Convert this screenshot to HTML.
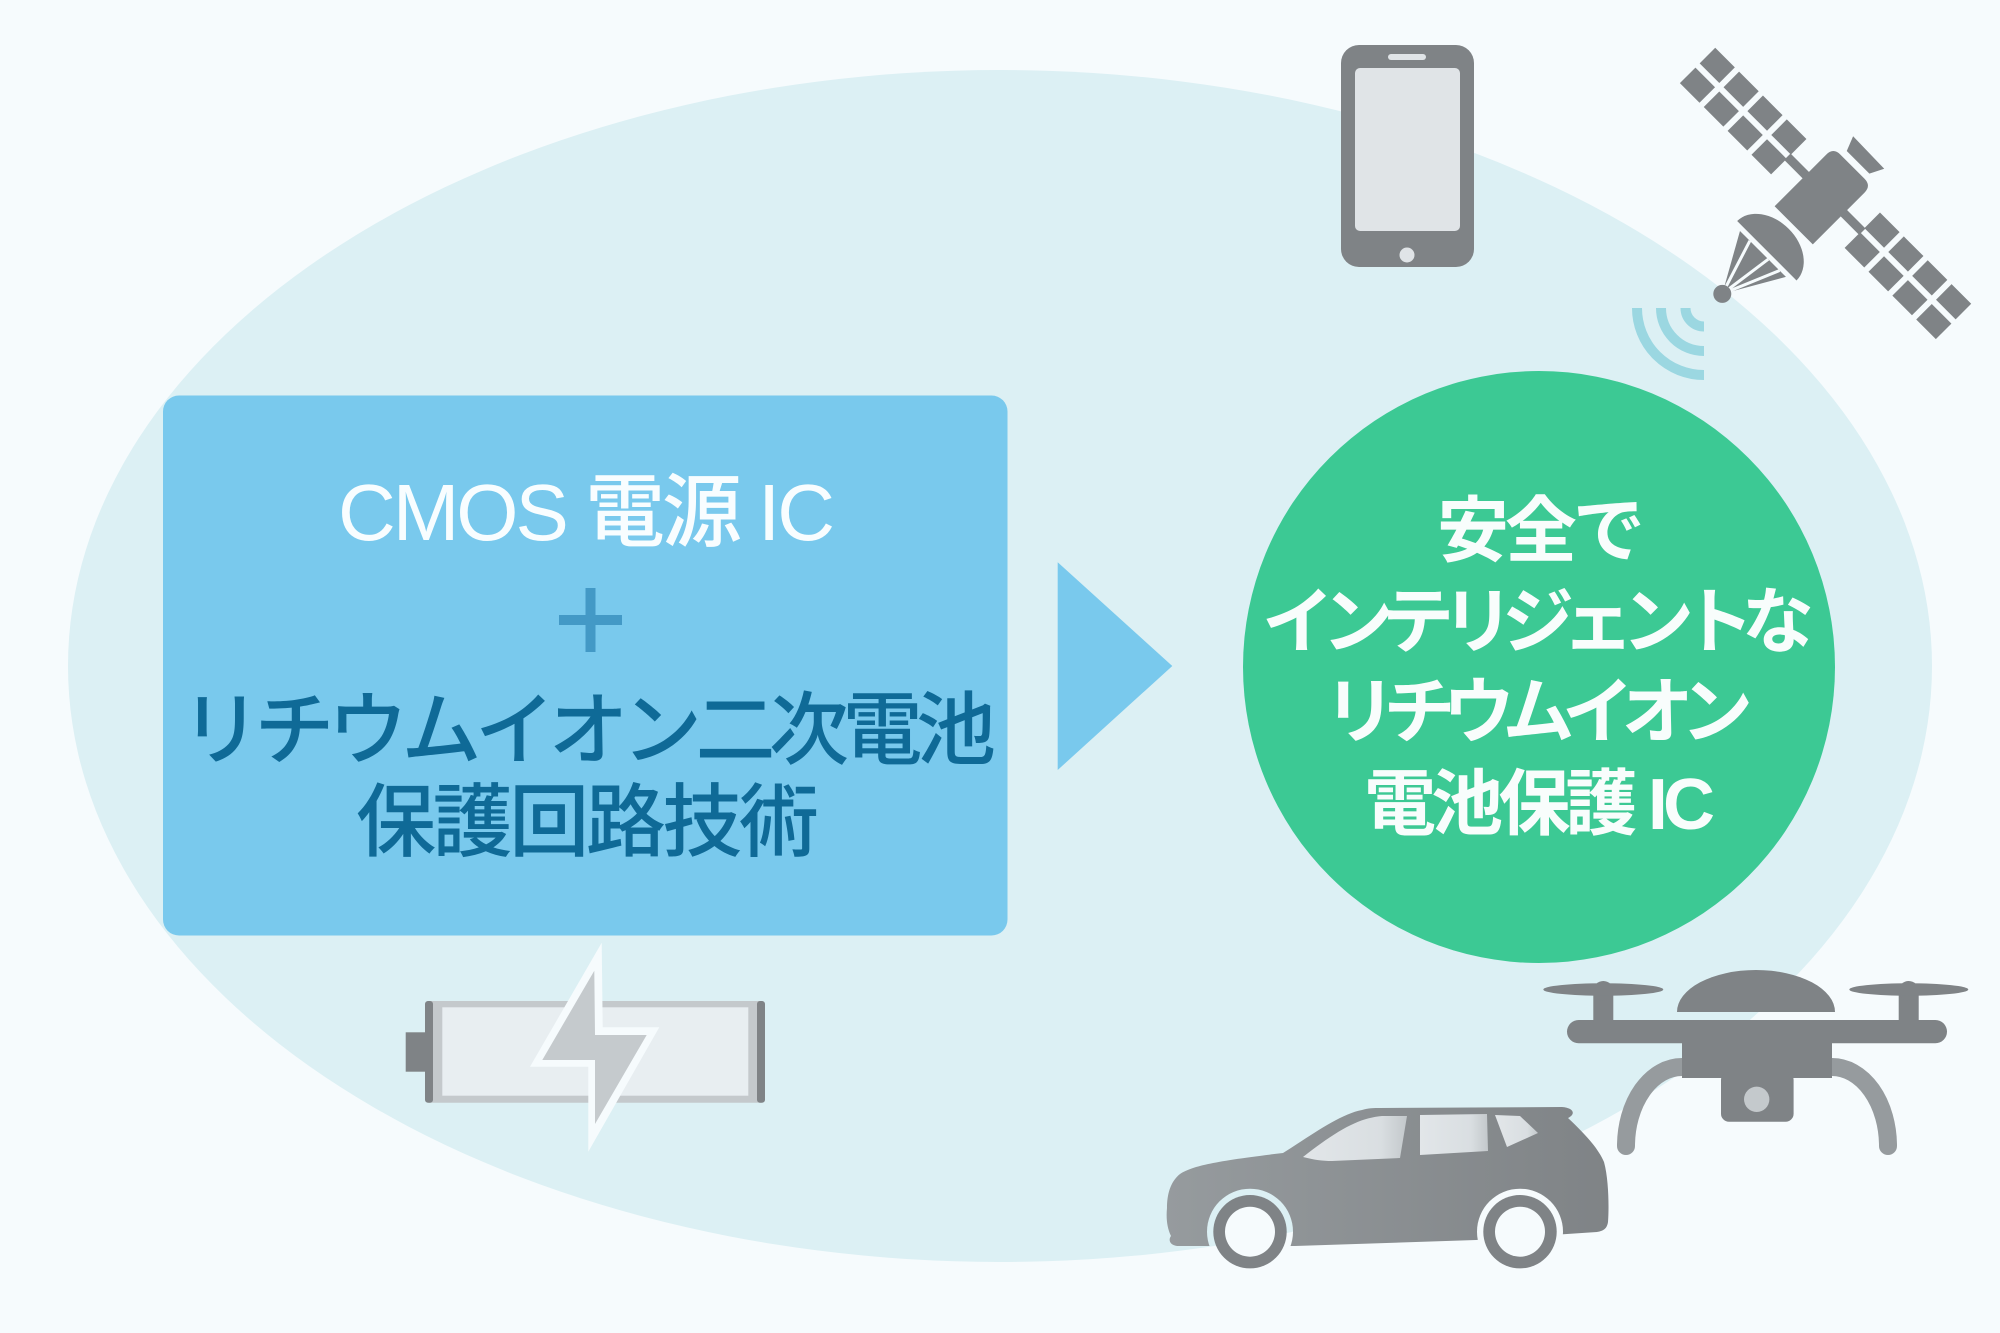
<!DOCTYPE html>
<html>
<head>
<meta charset="utf-8">
<style>
  html, body { margin: 0; padding: 0; background: #f6fbfd; }
  svg { display: block; }
  .jp { font-family: "Liberation Sans", "Noto Sans CJK JP", sans-serif; }
</style>
</head>
<body>
<svg width="2000" height="1333" viewBox="0 0 2000 1333" xmlns="http://www.w3.org/2000/svg">
  <defs>
    <linearGradient id="carg" x1="1165" y1="0" x2="1610" y2="0" gradientUnits="userSpaceOnUse">
      <stop offset="0" stop-color="#969b9e"/>
      <stop offset="1" stop-color="#7f8386"/>
    </linearGradient>
    <linearGradient id="wing" x1="0" y1="0" x2="1" y2="0">
      <stop offset="0" stop-color="#e2e6e9"/>
      <stop offset="0.75" stop-color="#d9dee1"/>
      <stop offset="1" stop-color="#c3c8cb"/>
    </linearGradient>
    <mask id="carmask" maskUnits="userSpaceOnUse" x="0" y="0" width="2000" height="1333">
      <rect x="0" y="0" width="2000" height="1333" fill="#fff"/>
      <circle cx="1250" cy="1231.7" r="43" fill="#000"/>
      <circle cx="1520" cy="1231.7" r="43" fill="#000"/>
    </mask>
  </defs>

  <!-- background -->
  <rect x="0" y="0" width="2000" height="1333" fill="#f6fbfd"/>
  <!-- big ellipse -->
  <ellipse cx="1000" cy="666" rx="932" ry="596" fill="#dcf0f4"/>

  <!-- blue box -->
  <rect x="163" y="395.5" width="844.5" height="540" rx="16" fill="#79c9ed"/>
  <text class="jp" x="586.5" y="540" font-size="80" font-weight="500" fill="#f8fdff" text-anchor="middle" textLength="497" lengthAdjust="spacing">CMOS 電源 IC</text>
  <rect x="559" y="615" width="63" height="10" fill="#4399c6"/>
  <rect x="585.5" y="588" width="10" height="64" fill="#4399c6"/>
  <text class="jp" x="588.5" y="758" font-size="80" font-weight="500" fill="#0f6a97" text-anchor="middle" textLength="815" lengthAdjust="spacing">リチウムイオン二次電池</text>
  <text class="jp" x="587.5" y="850" font-size="80" font-weight="500" fill="#0f6a97" text-anchor="middle" textLength="463" lengthAdjust="spacing">保護回路技術</text>

  <!-- arrow -->
  <polygon points="1057.7,562.3 1172.3,666 1057.7,770" fill="#79c9ed"/>

  <!-- green circle -->
  <circle cx="1539" cy="667" r="296" fill="#3cc994"/>
  <g class="jp" font-size="72" font-weight="700" fill="#f8fdfc" text-anchor="middle">
    <text x="1541" y="556" textLength="208" lengthAdjust="spacing">安全で</text>
    <text x="1538" y="647" textLength="552" lengthAdjust="spacing">インテリジェントな</text>
    <text x="1538.5" y="737" textLength="429" lengthAdjust="spacing">リチウムイオン</text>
    <text x="1539.5" y="829" textLength="351" lengthAdjust="spacing">電池保護 IC</text>
  </g>

  <!-- phone -->
  <rect x="1341" y="45" width="133" height="222" rx="18" fill="#7f8386"/>
  <rect x="1355" y="68" width="105" height="163" rx="5" fill="#e0e4e7"/>
  <rect x="1388" y="54" width="38" height="6" rx="3" fill="#e0e4e7"/>
  <circle cx="1407" cy="255" r="7.5" fill="#e0e4e7"/>

  <!-- wifi arcs -->
  <g fill="none" stroke="#9bd7e1" stroke-width="10">
    <path d="M1637,308 A67,67 0 0 0 1704,375"/>
    <path d="M1661,308 A43,43 0 0 0 1704,351"/>
    <path d="M1685.5,308 A18.5,18.5 0 0 0 1704,326.5"/>
  </g>

  <!-- satellite -->
  <g transform="translate(1822 197) rotate(45)" fill="#7f8386">
    <rect x="-181" y="-30" width="27.75" height="22"/>
    <rect x="-147.25" y="-30" width="27.75" height="22"/>
    <rect x="-113.5" y="-30" width="27.75" height="22"/>
    <rect x="-79.75" y="-30" width="27.75" height="22"/>
    <rect x="-181" y="-2" width="27.75" height="22"/>
    <rect x="-147.25" y="-2" width="27.75" height="22"/>
    <rect x="-113.5" y="-2" width="27.75" height="22"/>
    <rect x="-79.75" y="-2" width="27.75" height="22"/>
    <rect x="52" y="-30" width="27.75" height="22"/>
    <rect x="85.75" y="-30" width="27.75" height="22"/>
    <rect x="119.5" y="-30" width="27.75" height="22"/>
    <rect x="153.25" y="-30" width="27.75" height="22"/>
    <rect x="52" y="-2" width="27.75" height="22"/>
    <rect x="85.75" y="-2" width="27.75" height="22"/>
    <rect x="119.5" y="-2" width="27.75" height="22"/>
    <rect x="153.25" y="-2" width="27.75" height="22"/>
    <rect x="-53" y="-8.5" width="27" height="9"/>
    <rect x="26" y="-8.5" width="27" height="9"/>
    <path d="M-27,40 L-27,-33 Q-27,-43 -17,-43 L17,-43 Q27,-43 27,-33 L27,40 Z"/>
    <polygon points="-15,-50 17,-50 24,-64 -21,-65"/>
    <path d="M-43,77 A42,31 0 0 1 41,77 Z"/>
    <polygon points="-2,139 -34,82 31,82"/>
    <line x1="-2" y1="139" x2="-20" y2="82" stroke="#f6fbfd" stroke-width="3"/>
    <line x1="-2" y1="139" x2="6" y2="82" stroke="#f6fbfd" stroke-width="3"/>
    <line x1="-2" y1="139" x2="22" y2="82" stroke="#f6fbfd" stroke-width="3"/>
    <circle cx="-2" cy="139" r="9"/>
  </g>

  <!-- battery -->
  <rect x="405.7" y="1032.3" width="22" height="39.4" fill="#7f8386"/>
  <rect x="425" y="1001" width="340" height="101.7" rx="4" fill="#c4c9cc"/>
  <rect x="425" y="1001" width="8" height="101.7" rx="3" fill="#7f8386"/>
  <rect x="757" y="1001" width="8" height="101.7" rx="3" fill="#7f8386"/>
  <rect x="442.3" y="1007.3" width="306" height="88.4" fill="#e8eef1"/>
  <polygon points="601.7,942.7 530,1066.7 588.3,1066.7 588.3,1151.7 659.3,1027.3 602.7,1027.3" fill="#f6fbfd"/>
  <polygon points="594.3,970.7 542.3,1060 595,1060 595,1124 646.7,1035 595,1035" fill="#c5cacd"/>

  <!-- drone -->
  <g fill="none" stroke="#969b9e" stroke-width="18" stroke-linecap="round">
    <path d="M1695,1067 L1682,1067 A56,79 0 0 0 1626,1146"/>
    <path d="M1819,1067 L1832,1067 A56,79 0 0 1 1888,1146"/>
  </g>
  <g fill="#7f8386">
    <path d="M1677,1012 A79,42 0 0 1 1835,1012 Z"/>
    <rect x="1567" y="1020" width="380" height="23.3" rx="11.7"/>
    <rect x="1682" y="1020" width="150" height="58"/>
    <rect x="1721" y="1072" width="72.6" height="49.7" rx="8"/>
    <rect x="1593.3" y="990" width="20" height="32"/>
    <circle cx="1603.3" cy="991" r="10"/>
    <rect x="1898.7" y="990" width="20" height="32"/>
    <circle cx="1908.7" cy="991" r="10"/>
    <ellipse cx="1603.3" cy="989.5" rx="60" ry="6.2"/>
    <ellipse cx="1908.8" cy="989.5" rx="59.5" ry="6.2"/>
  </g>
  <circle cx="1756.7" cy="1099.3" r="12.7" fill="#c4c9cc"/>

  <!-- car -->
  <path mask="url(#carmask)" fill="url(#carg)" d="M1177,1246 C1170,1245 1168,1240 1171,1236 C1167,1228 1166,1218 1167,1208 C1167,1195 1170,1182 1180,1174 C1192,1166 1215,1161 1283,1153 C1310,1136 1340,1114 1362,1110 C1368,1108 1374,1108 1380,1108 L1562,1107 C1574,1108 1576,1114 1568,1118 C1585,1134 1598,1148 1604,1162 C1609,1180 1609,1210 1608,1222 C1607,1229 1603,1231 1597,1232 L1476,1240 L1295,1246 Z"/>
  <path fill="url(#wing)" d="M1303,1157 C1315,1160 1322,1161 1332,1161 L1400,1158 L1407,1116 L1382,1116 C1360,1118 1340,1128 1303,1157 Z"/>
  <path fill="url(#wing)" d="M1420,1115 L1487,1114 L1488,1151 L1420,1155 Z"/>
  <path fill="url(#wing)" d="M1495,1115 L1520,1116 L1538,1133 L1507,1147 Z"/>
  <circle cx="1250" cy="1231.7" r="36.7" fill="#7f8386"/>
  <circle cx="1250" cy="1231.7" r="25" fill="#f6fbfd"/>
  <circle cx="1520" cy="1231.7" r="36.7" fill="#7f8386"/>
  <circle cx="1520" cy="1231.7" r="25" fill="#f6fbfd"/>
</svg>
</body>
</html>
